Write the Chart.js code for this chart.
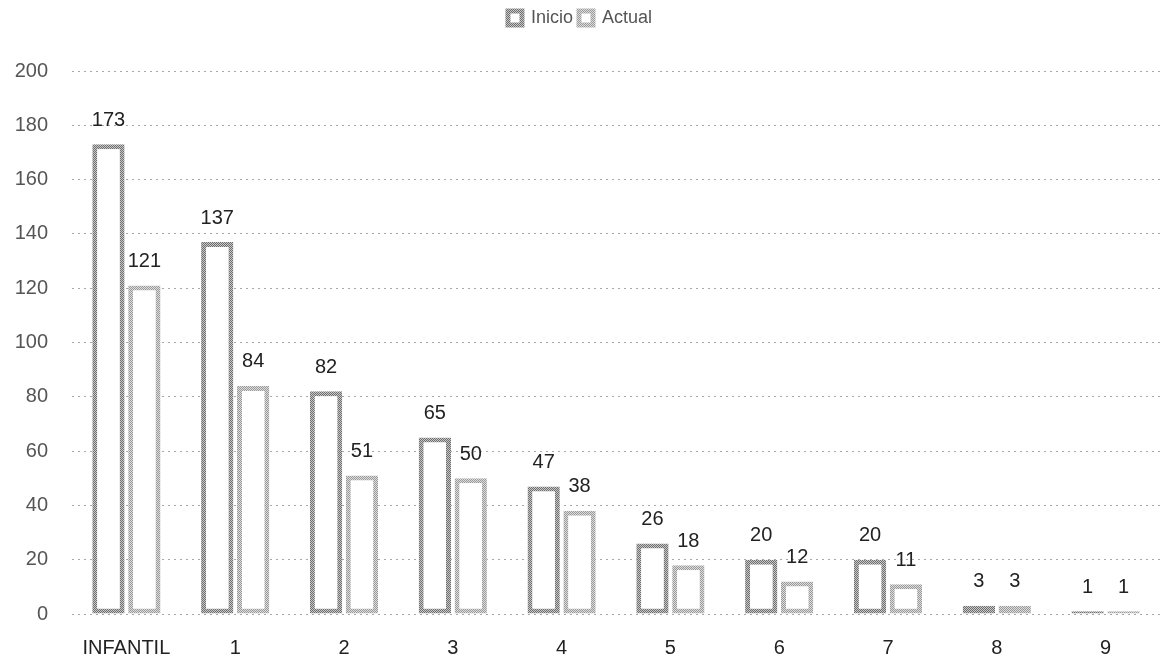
<!DOCTYPE html>
<html>
<head>
<meta charset="utf-8">
<script src="https://cdn.jsdelivr.net/npm/chart.js@4"></script>
<style>
  body { margin: 0; background: #fff; }
  #wrap { width: 1164px; height: 669px; }
</style>
</head>
<body>
<div id="wrap"><canvas id="myChart" width="1164" height="669"></canvas></div>
<script>
const categories = ["INFANTIL", "1", "2", "3", "4", "5", "6", "7", "8", "9"];
const inicio = [173, 137, 82, 65, 47, 26, 20, 20, 3, 1];
const actual = [121, 84, 51, 50, 38, 18, 12, 11, 3, 1];
const yTicks = [0, 20, 40, 60, 80, 100, 120, 140, 160, 180, 200];

const FONT = "'Liberation Sans', Arial, sans-serif";

// small checker texture, like the scanned hatch on the bar outlines
const makePattern = (dark, light) => {
  const c = document.createElement("canvas");
  c.width = 2;
  c.height = 2;
  const g = c.getContext("2d");
  g.fillStyle = light;
  g.fillRect(0, 0, 2, 2);
  g.fillStyle = dark;
  g.fillRect(0, 0, 1, 1);
  g.fillRect(1, 1, 1, 1);
  return g.createPattern(c, "repeat");
};

const ctx = document.getElementById("myChart").getContext("2d");
const inicioBorder = makePattern("#6e6e6e", "#c8c8c8");
const actualBorder = makePattern("#9a9a9a", "#dcdcdc");

// push the plot down: leave a wider gap under the legend
const legendGap = {
  id: "legendGap",
  beforeLayout(chart) {
    const lg = chart.legend;
    if (lg && !lg._gapPatched) {
      const fit = lg.fit;
      lg.fit = function () {
        fit.call(this);
        this.height += 34;
      };
      lg._gapPatched = true;
    }
  },
};

const valueLabels = {
  id: "valueLabels",
  afterDatasetsDraw(chart) {
    const c = chart.ctx;
    c.save();
    c.font = "20px " + FONT;
    c.fillStyle = "#222";
    c.textAlign = "center";
    c.textBaseline = "bottom";
    chart.data.datasets.forEach((ds, i) => {
      chart.getDatasetMeta(i).data.forEach((bar, j) => {
        c.fillText(ds.data[j], bar.x, bar.y - 14);
      });
    });
    c.restore();
  },
};

myChart = new Chart(ctx, {
  type: "bar",
  data: {
    labels: categories,
    datasets: [
      {
        label: "Inicio",
        data: inicio,
        backgroundColor: "#fff",
        borderColor: inicioBorder,
        borderWidth: 5,
        borderSkipped: false,
      },
      {
        label: "Actual",
        data: actual,
        backgroundColor: "#fff",
        borderColor: actualBorder,
        borderWidth: 5,
        borderSkipped: false,
      },
    ],
  },
  options: {
    responsive: false,
    animation: false,
    layout: { padding: { top: 3, right: 4, bottom: 0, left: 0 } },
    datasets: {
      bar: { categoryPercentage: 0.66, barPercentage: 0.9 },
    },
    plugins: {
      legend: {
        position: "top",
        labels: {
          boxWidth: 14,
          boxHeight: 14,
          padding: 6,
          color: "#555",
          font: { size: 18, family: FONT },
        },
      },
      tooltip: { enabled: false },
    },
    scales: {
      x: {
        afterFit: (s) => { s.height = 55; },
        grid: { display: false },
        border: { display: false },
        ticks: {
          color: "#222",
          padding: 14,
          font: { size: 20, family: FONT },
        },
      },
      y: {
        min: 0,
        max: 200,
        afterFit: (s) => { s.width = 72; },
        afterBuildTicks: (s) => { s.ticks = yTicks.map((v) => ({ value: v })); },
        grid: {
          color: "#a8a8a8",
          lineWidth: 1,
          drawTicks: false,
        },
        border: { display: false, dash: [2, 4] },
        ticks: {
          color: "#555",
          padding: 24,
          font: { size: 20, family: FONT },
        },
      },
    },
  },
  plugins: [legendGap, valueLabels],
});
</script>
</body>
</html>
